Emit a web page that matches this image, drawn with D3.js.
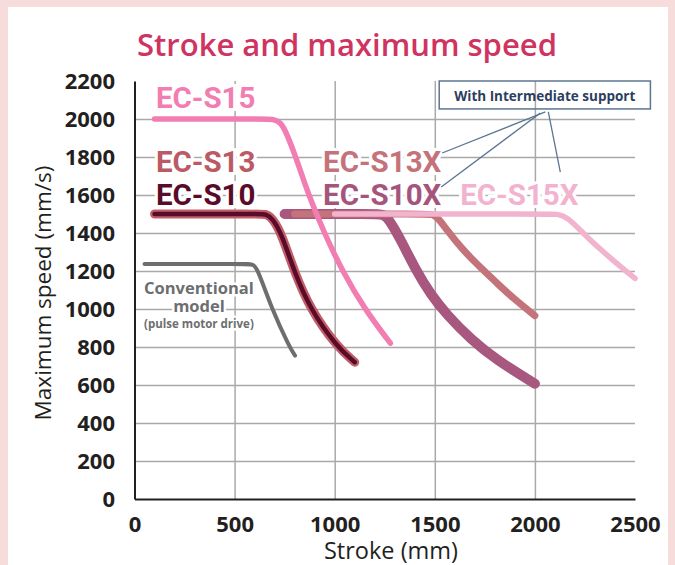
<!DOCTYPE html>
<html>
<head>
<meta charset="utf-8">
<script src="https://cdn.jsdelivr.net/npm/d3@7"></script>
<style>
  html, body { margin: 0; padding: 0; background: #f7dcdc; }
  svg { display: block; }
</style>
</head>
<body>
<div id="chart"></div>
<script>
// axis ticks
const strokeTicks = [0, 500, 1000, 1500, 2000, 2500];
const speedTicks = [0, 200, 400, 600, 800, 1000, 1200, 1400, 1600, 1800, 2000, 2200];

// series: [stroke (mm), max speed (mm/s)]
const conventional = [[50, 1237], [560, 1237], [595, 1237], [619, 1200], [686, 1000], [774, 800], [802, 755]];
const ecS10 = [[100, 1500], [620, 1500], [660, 1500], [690, 1475], [733, 1400], [797, 1200], [877, 1000], [1012, 800], [1100, 720]];
const ecS13 = ecS10; // same curve, drawn as the outline of EC-S10
const ecS15 = [[100, 2000], [650, 2000], [690, 2000], [730, 1985], [760, 1925], [806, 1800], [869, 1600], [948, 1400], [1038, 1200], [1149, 1000], [1278, 820]];
const ecS10X = [[750, 1500], [1200, 1500], [1245, 1500], [1275, 1465], [1330, 1365], [1400, 1215], [1480, 1075], [1560, 970], [1680, 840], [1810, 730], [2000, 607]];
const ecS13X = [[800, 1500], [1450, 1500], [1490, 1500], [1520, 1475], [1560, 1416], [1640, 1311], [1725, 1221], [1810, 1137], [1890, 1058], [2000, 965]];
const ecS15X = [[1000, 1500], [2060, 1500], [2110, 1500], [2160, 1488], [2260, 1377], [2390, 1256], [2500, 1161]];

const width = 675;
const height = 565;

const svg = d3.select('#chart')
    .append('svg')
    .attr('width', width)
    .attr('height', height);

// pink frame + white panel
svg.append('rect').attr('width', width).attr('height', height).attr('fill', '#f7dcdc');
svg.append('rect').attr('x', 8).attr('y', 7).attr('width', 660).attr('height', height - 7).attr('fill', '#fff');

const x = d3.scaleLinear().domain([0, 2500]).range([134.5, 635]);
const y = d3.scaleLinear().domain([0, 2200]).range([499, 81]);

// grid
svg.append('g')
    .attr('transform', `translate(${x(0)},0)`)
    .call(d3.axisLeft(y).tickValues(speedTicks.filter(d => d > 0 && d < 2200))
        .tickSize(-(x(2500) - x(0))).tickFormat(''))
    .call(g => g.select('.domain').remove())
    .call(g => g.selectAll('line').attr('stroke', '#a9a9a9').attr('stroke-width', 1.5));

svg.append('g')
    .attr('transform', `translate(0,${y(0)})`)
    .call(d3.axisBottom(x).tickValues(strokeTicks.filter(d => d > 0 && d < 2500))
        .tickSize(-(y(0) - y(2200))).tickFormat(''))
    .call(g => g.select('.domain').remove())
    .call(g => g.selectAll('line').attr('stroke', '#a9a9a9').attr('stroke-width', 1.5));

// axes
const xAxis = svg.append('g')
    .attr('transform', `translate(0,${y(0)})`)
    .call(d3.axisBottom(x).tickValues(strokeTicks).tickFormat(d3.format('d'))
        .tickSize(0).tickSizeOuter(0).tickPadding(17));
const yAxis = svg.append('g')
    .attr('transform', `translate(${x(0)},0)`)
    .call(d3.axisLeft(y).tickValues(speedTicks).tickFormat(d3.format('d'))
        .tickSize(0).tickSizeOuter(0).tickPadding(19.5));

[xAxis, yAxis].forEach(g => {
    g.select('.domain').attr('stroke', '#231f20').attr('stroke-width', 2);
    g.selectAll('text')
        .attr('fill', '#231f20')
        .style('font-family', '"Open Sans", sans-serif')
        .style('font-weight', 700)
        .style('font-size', '22px');
});

// curves
const line = d3.line()
    .x(d => x(d[0]))
    .y(d => y(d[1]))
    .curve(d3.curveBasis);

function drawLine(data, color, w) {
    svg.append('path')
        .attr('d', line(data))
        .attr('fill', 'none')
        .attr('stroke', color)
        .attr('stroke-width', w)
        .attr('stroke-linecap', 'round')
        .attr('stroke-linejoin', 'round');
}

drawLine(conventional, '#6d6e70', 4);
drawLine(ecS13, '#c05f68', 9);
drawLine(ecS10, '#5a0b29', 4.5);
drawLine(ecS10X, '#a8577f', 10);
drawLine(ecS13X, '#c4737a', 7);
drawLine(ecS15X, '#f2b3cf', 5.5);
drawLine(ecS15, '#f27db2', 5.5);

// series labels
const labels = [
    { text: 'EC-S15', at: [107, 2056], color: '#f27db2' },
    { text: 'EC-S13', at: [107, 1723], color: '#bb5a64' },
    { text: 'EC-S10', at: [107, 1547], color: '#5a0b29' },
    { text: 'EC-S13X', at: [942, 1723], color: '#c4737a' },
    { text: 'EC-S10X', at: [942, 1547], color: '#a5557d' },
    { text: 'EC-S15X', at: [1627, 1547], color: '#f2b3cf' }
];

svg.selectAll('.series-label')
    .data(labels)
    .enter()
    .append('text')
    .attr('class', 'series-label')
    .attr('x', d => x(d.at[0]))
    .attr('y', d => y(d.at[1]))
    .attr('fill', d => d.color)
    .attr('stroke', '#fff')
    .attr('stroke-width', 6)
    .attr('paint-order', 'stroke')
    .style('font-family', 'Roboto, sans-serif')
    .style('font-weight', 700)
    .style('font-size', '29.5px')
    .text(d => d.text);

// conventional model note
const convNote = [
    { text: 'Conventional', at: [322, 1078], size: 16.5 },
    { text: 'model', at: [322, 982], size: 16.5 },
    { text: '(pulse motor drive)', at: [322, 898], size: 11.5 }
];
svg.selectAll('.conv')
    .data(convNote)
    .enter()
    .append('text')
    .attr('x', d => x(d.at[0]))
    .attr('y', d => y(d.at[1]))
    .attr('text-anchor', 'middle')
    .attr('fill', '#6d6e70')
    .attr('stroke', '#fff')
    .attr('stroke-width', 5)
    .attr('paint-order', 'stroke')
    .style('font-family', '"Open Sans", sans-serif')
    .style('font-weight', 700)
    .style('font-size', d => d.size + 'px')
    .text(d => d.text);

// intermediate support callout
const boxCorners = [[1522, 2200], [2577, 2053]];
const leaders = [
    [[2052, 2037], [1537, 1821]],
    [[2027, 2032], [1532, 1642]],
    [[2067, 2037], [2127, 1721]]
];

svg.selectAll('.leader')
    .data(leaders)
    .enter()
    .append('line')
    .attr('x1', d => x(d[0][0])).attr('y1', d => y(d[0][1]))
    .attr('x2', d => x(d[1][0])).attr('y2', d => y(d[1][1]))
    .attr('stroke', '#5b7593')
    .attr('stroke-width', 1.3);

svg.append('rect')
    .attr('x', x(boxCorners[0][0]))
    .attr('y', y(boxCorners[0][1]))
    .attr('width', x(boxCorners[1][0]) - x(boxCorners[0][0]))
    .attr('height', y(boxCorners[1][1]) - y(boxCorners[0][1]))
    .attr('fill', 'none')
    .attr('stroke', '#5b7593')
    .attr('stroke-width', 1.5);

svg.append('text')
    .attr('x', (x(boxCorners[0][0]) + x(boxCorners[1][0])) / 2)
    .attr('y', y(boxCorners[1][1]) - 8)
    .attr('text-anchor', 'middle')
    .attr('fill', '#2c3e60')
    .style('font-family', '"Open Sans", sans-serif')
    .style('font-weight', 700)
    .style('font-size', '13.5px')
    .text('With Intermediate support');

// titles
svg.append('text')
    .attr('x', 347)
    .attr('y', 56)
    .attr('text-anchor', 'middle')
    .attr('fill', '#cf3461')
    .style('font-family', '"Open Sans", sans-serif')
    .style('font-weight', 600)
    .style('font-size', '31px')
    .text('Stroke and maximum speed');

svg.append('text')
    .attr('x', 391)
    .attr('y', 559)
    .attr('text-anchor', 'middle')
    .attr('fill', '#231f20')
    .style('font-family', '"Open Sans", sans-serif')
    .style('font-size', '23.5px')
    .text('Stroke (mm)');

svg.append('text')
    .attr('transform', 'translate(51,293) rotate(-90)')
    .attr('text-anchor', 'middle')
    .attr('fill', '#231f20')
    .style('font-family', '"Open Sans", sans-serif')
    .style('font-size', '22.5px')
    .text('Maximum speed (mm/s)');
</script>
</body>
</html>
